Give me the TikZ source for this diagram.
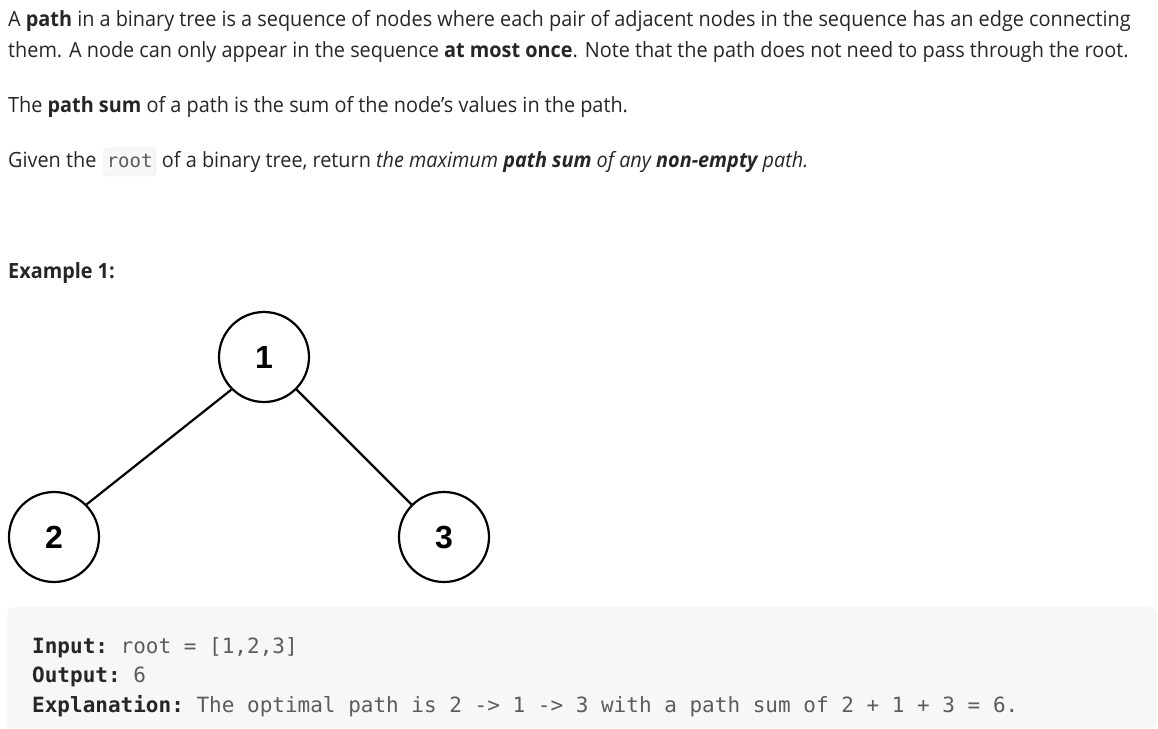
\documentclass[tikz,border=0pt]{standalone}
\usepackage{fontspec}
\setmainfont{Open Sans}[FakeStretch=0.945]
\setmonofont{DejaVu Sans Mono}
\newfontfamily\digitfont{Liberation Sans}
\usepackage{xcolor}
\usepackage{tikz}
\usetikzlibrary{positioning}
\definecolor{ink}{HTML}{262626}
\definecolor{codegray}{HTML}{5C5C5C}
\definecolor{boxgray}{HTML}{F7F7F7}
\definecolor{rimgray}{HTML}{E3E3E3}

\begin{document}
\begin{tikzpicture}[x=1pt,y=-1pt,
  txt/.style={anchor=base west,inner sep=0pt,text=ink,font=\fontsize{21}{31}\selectfont},
  codeword/.style={draw=rimgray,fill=boxgray,rounded corners=4pt,text=codegray,
    inner xsep=3pt,inner ysep=0pt,text height=19pt,text depth=9pt,
    font=\ttfamily\fontsize{19}{19}\selectfont},
  codeline/.style={anchor=base west,inner sep=0pt,text=ink,font=\ttfamily\fontsize{21}{30}\selectfont},
  treenode/.style={circle,draw=black,line width=2.2pt,minimum size=90pt,inner sep=0pt,
    font=\digitfont\bfseries\fontsize{32}{32}\selectfont},
  branch/.style={line width=2.2pt}]
\useasboundingbox (0,0) rectangle (1158,728);

\node[txt] (line1) at (8,26) {A \textbf{path} in a binary tree is a sequence of nodes where each pair of adjacent nodes in the sequence has an edge connecting};
\node[txt] (line2) at (8,57) {them. A node can only appear in the sequence \textbf{at most once}. Note that the path does not need to pass through the root.};
\node[txt] (line3) at (8,112) {The \textbf{path sum} of a path is the sum of the node\symbol{39}s values in the path.};
\node[txt] (given) at (8,167) {Given the};
\node[codeword,base right=7pt of given] (root) {root};
\node[txt,base right=6pt of root] (rest) {of a binary tree, return \textit{the maximum \textbf{path sum} of any \textbf{non-empty} path.}};

\node[txt,font=\bfseries\fontsize{21}{31}\selectfont] (example) at (8,278) {Example 1:};

% the tree
\node[treenode] (n1) at (264,357) {1};
\node[treenode] (n2) at (54,537) {2};
\node[treenode] (n3) at (444,537) {3};
\draw[branch] (n1.225) -- (n2.45);
\draw[branch] (n1.-45) -- (n3.135);

% the code block
\fill[boxgray] (7,728) [rounded corners=8pt] |- (1157,607) -- (1157,728) [sharp corners] -- cycle;
\node[codeline] (input) at (32,653) {\textbf{Input:} \textcolor{codegray}{root = [1,2,3]}};
\node[codeline] (output) at (32,682) {\textbf{Output:} \textcolor{codegray}{6}};
\node[codeline] (explain) at (32,712) {\textbf{Explanation:} \textcolor{codegray}{The optimal path is 2 -> 1 -> 3 with a path sum of 2 + 1 + 3 = 6.}};
\end{tikzpicture}
\end{document}
